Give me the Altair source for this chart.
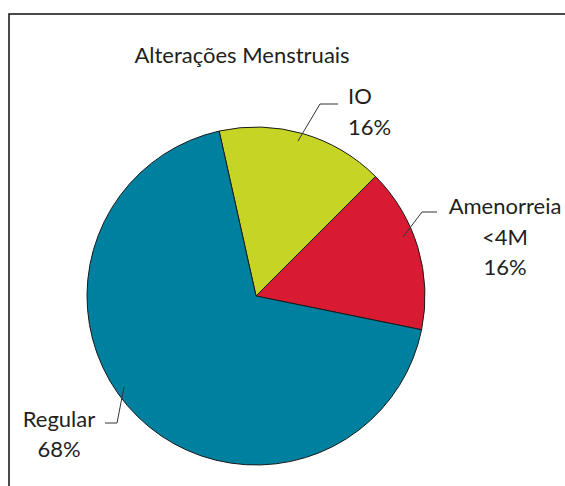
import math
import altair as alt
import pandas as pd

categories = ["IO", "Amenorreia <4M", "Regular"]
slice_values = [16.0, 15.7, 68.3]
label_lines = [["IO", "16%"], ["Amenorreia", "<4M", "16%"], ["Regular", "68%"]]
colors = ["#C6D425", "#D81A32", "#00809F"]
title_text = "Alterações Menstruais"

df = pd.DataFrame({"cat": categories, "val": slice_values, "ord": [0, 1, 2]})

W, H = 565, 486
CX, CY, R = 256, 296, 169
start = math.radians(-12.6)

base = alt.Chart(df)

pie = base.mark_arc(stroke="#1a1a1a", strokeWidth=1).encode(
    theta=alt.Theta("val:Q", stack=True,
                    scale=alt.Scale(domain=[0, sum(slice_values)], nice=False, zero=True,
                                    range=[start, start + 2 * math.pi])),
    color=alt.Color("cat:N", scale=alt.Scale(domain=categories, range=colors), legend=None),
    order=alt.Order("ord:Q"),
    x=alt.value(CX), y=alt.value(CY), radius=alt.value(R),
)

font = "Lato"
layers = [pie]

# frame
layers.append(
    alt.Chart(pd.DataFrame({"a": [0]})).mark_rect(fill=None, stroke="#111", strokeWidth=1.5).encode(
        x=alt.value(9), x2=alt.value(620), y=alt.value(14), y2=alt.value(540)
    )
)

# title
layers.append(
    alt.Chart(pd.DataFrame({"t": [title_text]})).mark_text(
        font=font, fontSize=22, color="#231f20", align="center", baseline="middle"
    ).encode(text="t:N", x=alt.value(242), y=alt.value(56))
)

# labels
label_pos = [(348, "left", [97, 128]), (505, "center", [207, 238, 268]), (59, "center", [420, 450])]
for lines, (lx, al, ys) in zip(label_lines, label_pos):
    for line, ly in zip(lines, ys):
        layers.append(
            alt.Chart(pd.DataFrame({"t": [line]})).mark_text(
                font=font, fontSize=22, color="#231f20", align=al, baseline="middle"
            ).encode(text="t:N", x=alt.value(lx), y=alt.value(ly))
        )

# leader lines
leaders = [
    [(298, 141), (320, 104), (338, 104)],
    [(403, 237), (422, 212), (437, 212)],
    [(124, 387), (117, 423), (105, 423)],
]
for pts in leaders:
    for (x1, y1), (x2, y2) in zip(pts[:-1], pts[1:]):
        layers.append(
            alt.Chart(pd.DataFrame({"a": [0]})).mark_rule(color="#333", strokeWidth=1).encode(
                x=alt.value(x1), y=alt.value(y1), x2=alt.value(x2), y2=alt.value(y2)
            )
        )

chart = alt.layer(*layers).properties(
    width=W, height=H, padding=0, autosize=alt.AutoSizeParams(type="none"),
    background="white"
).configure_view(stroke=None)

chart.save("out.html", embed_options={"renderer": "svg", "actions": False})
